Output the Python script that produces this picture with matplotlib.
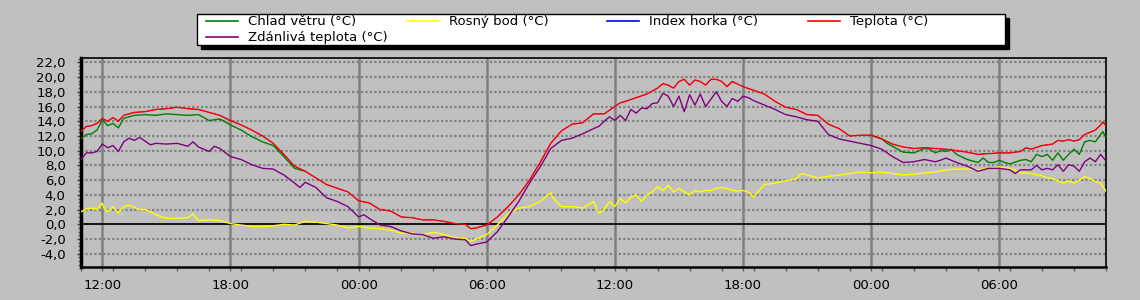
import matplotlib
matplotlib.use("Agg")
import matplotlib.pyplot as plt
from matplotlib.lines import Line2D
from matplotlib.patches import Rectangle
from matplotlib.ticker import FuncFormatter, MultipleLocator
import numpy as np

# hodiny od 11:00 prvniho dne (48 h)
t_teplota = [0, 0.25, 0.5, 0.75, 1, 1.25, 1.5, 1.75, 2, 2.5, 3, 3.5, 4, 4.5, 5, 5.5, 6, 6.5, 7, 7.5, 8, 8.5, 9, 9.5,
             10, 10.5, 11, 11.5, 12, 12.5, 13, 13.5, 14, 14.5, 15, 15.5, 16, 16.5, 17, 17.5, 18, 18.25, 18.5, 19,
             19.5, 20, 20.5, 21, 21.5, 22, 22.5, 23, 23.5, 24, 24.25, 24.5, 25, 25.25, 25.5, 26, 26.5, 27, 27.25,
             27.5, 27.75, 28, 28.25, 28.5, 28.75, 29, 29.25, 29.5, 29.75, 30, 30.25, 30.5, 31, 31.5, 32, 32.5, 33,
             33.5, 34, 34.5, 35, 35.5, 36, 36.5, 37, 37.5, 38, 38.5, 39, 39.5, 40, 40.5, 41, 41.5, 42, 42.5, 43,
             43.5, 44, 44.25, 44.5, 45, 45.5, 45.75, 46, 46.25, 46.5, 46.75, 47, 47.5, 47.75, 47.85, 48]
teplota = [12.6, 13.3, 13.4, 13.7, 14.4, 14.0, 14.5, 14.0, 14.8, 15.2, 15.3, 15.6, 15.7, 15.9, 15.7, 15.6, 15.2, 14.8,
           14.1, 13.5, 12.8, 12.0, 11.0, 9.5, 7.9, 7.2, 6.3, 5.4, 4.9, 4.4, 3.2, 2.9, 2.0, 1.8, 1.0, 0.9, 0.6, 0.6,
           0.4, 0.1, 0.0, -0.6, -0.5, -0.1, 1.0, 2.4, 4.0, 6.0, 8.4, 11.0, 12.7, 13.6, 13.8, 15.0, 15.0, 15.0, 16.0,
           16.5, 16.7, 17.2, 17.7, 18.5, 19.1, 18.9, 18.5, 19.4, 19.7, 18.9, 19.6, 19.4, 18.9, 19.7, 19.7, 19.4,
           18.7, 19.4, 18.7, 18.2, 17.7, 16.7, 15.9, 15.6, 14.9, 14.8, 13.6, 13.0, 12.0, 12.1, 12.1, 11.6, 10.9,
           10.5, 10.3, 10.4, 10.3, 10.2, 10.0, 9.8, 9.5, 9.6, 9.7, 9.7, 9.9, 10.4, 10.2, 10.7, 10.9, 11.4, 11.3,
           11.5, 11.3, 11.5, 12.2, 12.8, 13.5, 13.9, 13.4]

# chlad vetru - jen useky, kde se lisi od teploty
t_chlad_1 = [0, 0.25, 0.5, 0.75, 1, 1.25, 1.5, 1.75, 2, 2.5, 3, 3.5, 4, 4.5, 5, 5.5, 6, 6.5, 7, 7.5, 8, 8.5, 9,
             9.5, 10, 10.5]
chlad_1 = [11.6, 12.2, 12.3, 12.8, 14.2, 13.4, 13.7, 13.1, 14.4, 14.8, 14.9, 14.8, 15.0, 14.9, 14.8, 14.9, 14.1,
           14.3, 13.5, 12.8, 11.9, 11.2, 10.7, 9.2, 7.6, 7.2]
t_chlad_2 = [37, 37.5, 37.75, 38, 38.5, 39, 39.5, 39.75, 40, 40.25, 40.5, 40.75, 41, 41.5, 42, 42.25, 42.5, 42.75,
             43, 43.25, 43.5, 44, 44.25, 44.5, 44.75, 45, 45.25, 45.5, 45.75, 46, 46.25, 46.5, 46.75, 47, 47.25,
             47.5, 47.75, 47.85, 48]
chlad_2 = [12.1, 11.6, 11.0, 10.6, 9.8, 9.7, 10.3, 10.2, 9.7, 10.0, 9.9, 10.2, 9.5, 8.8, 8.4, 9.0, 8.4, 8.4, 8.7,
           8.4, 8.2, 8.7, 8.8, 8.5, 9.5, 9.2, 9.5, 8.7, 9.7, 8.7, 9.5, 10.2, 9.5, 11.2, 11.4, 11.2, 12.2, 12.6, 11.8]

t_zdanliva = [0, 0.25, 0.5, 0.75, 1, 1.25, 1.5, 1.75, 2, 2.25, 2.5, 2.75, 3, 3.25, 3.5, 4, 4.5, 5, 5.25, 5.5, 6,
              6.25, 6.5, 7, 7.5, 8, 8.5, 9, 9.5, 10, 10.25, 10.5, 11, 11.5, 12, 12.5, 13, 13.25, 13.5, 14, 14.5,
              15, 15.5, 16, 16.5, 17, 17.5, 18, 18.25, 18.5, 19, 19.5, 20, 20.5, 21, 21.5, 22, 22.5, 23, 23.5, 24,
              24.25, 24.5, 24.75, 25, 25.25, 25.5, 25.75, 26, 26.25, 26.5, 26.75, 27, 27.25, 27.5, 27.75, 28,
              28.25, 28.5, 28.75, 29, 29.25, 29.5, 29.75, 30, 30.25, 30.5, 30.75, 31, 31.25, 31.5, 32, 32.5, 33,
              33.5, 34, 34.5, 35, 35.5, 36, 36.5, 37, 37.5, 38, 38.5, 39, 39.5, 40, 40.25, 40.5, 41, 41.5, 42,
              42.25, 42.5, 43, 43.5, 43.75, 44, 44.5, 44.75, 45, 45.25, 45.5, 45.75, 46, 46.25, 46.5, 46.75, 47,
              47.25, 47.5, 47.75, 48]
zdanliva = [8.8, 9.7, 9.7, 9.9, 10.9, 10.4, 10.7, 9.9, 11.2, 11.7, 11.4, 11.8, 11.3, 10.8, 11.0, 10.9, 11.0, 10.6,
            11.2, 10.5, 9.9, 10.6, 10.3, 9.2, 8.8, 8.1, 7.6, 7.5, 6.7, 5.6, 5.0, 5.7, 5.0, 3.6, 3.1, 2.4, 1.0, 1.3,
            0.8, -0.1, -0.3, -0.9, -1.3, -1.4, -1.9, -1.7, -2.0, -2.1, -2.9, -2.7, -2.4, -1.0, 1.0, 3.1, 5.6, 7.8,
            10.3, 11.4, 11.7, 12.3, 13.0, 13.3, 14.0, 14.6, 14.1, 14.8, 14.1, 15.6, 15.1, 15.8, 15.7, 16.4, 16.5,
            17.8, 17.4, 16.0, 17.4, 15.3, 17.6, 16.2, 17.7, 16.0, 17.0, 18.0, 16.7, 16.0, 17.1, 16.7, 17.4, 17.2,
            16.8, 16.2, 15.6, 14.9, 14.6, 14.2, 14.0, 12.2, 11.6, 11.3, 11.0, 10.7, 10.2, 9.2, 8.4, 8.5, 8.8, 8.5,
            8.7, 9.0, 8.4, 7.9, 7.2, 7.4, 7.6, 7.6, 7.4, 6.9, 7.4, 7.4, 8.0, 7.4, 7.6, 7.4, 8.1, 7.2, 8.1, 7.9,
            7.2, 8.5, 9.0, 8.5, 9.5, 8.6]

t_rosny = [0, 0.25, 0.5, 0.75, 1, 1.1, 1.25, 1.5, 1.75, 2, 2.25, 2.5, 2.75, 3, 3.25, 3.5, 4, 4.5, 5, 5.25, 5.5, 6,
           6.5, 7, 7.5, 8, 8.5, 9, 9.5, 10, 10.5, 11, 11.5, 12, 12.5, 13, 13.5, 14, 14.5, 15, 15.5, 16, 16.5, 17,
           17.5, 18, 18.25, 18.5, 19, 19.5, 20, 20.5, 21, 21.5, 22, 22.1, 22.5, 23, 23.5, 24, 24.25, 24.5, 24.75,
           25, 25.25, 25.5, 25.75, 26, 26.25, 26.5, 26.75, 27, 27.25, 27.5, 27.75, 28, 28.25, 28.5, 28.75, 29,
           29.25, 29.5, 29.75, 30, 30.25, 30.5, 30.75, 31, 31.25, 31.5, 31.75, 32, 32.5, 33, 33.5, 33.75, 34,
           34.5, 35, 35.5, 36, 36.5, 37, 37.5, 38, 38.5, 39, 39.5, 40, 40.5, 41, 41.5, 42, 42.5, 43, 43.5, 44,
           44.5, 45, 45.25, 45.5, 45.75, 46, 46.25, 46.5, 46.75, 47, 47.25, 47.5, 47.75, 48]
rosny = [1.7, 2.1, 2.2, 2.0, 2.9, 2.0, 1.7, 2.4, 1.5, 2.4, 2.6, 2.3, 2.0, 2.0, 1.7, 1.3, 0.8, 0.8, 0.9, 1.4, 0.5,
         0.6, 0.5, 0.1, -0.1, -0.3, -0.3, -0.2, 0.0, -0.1, 0.4, 0.3, 0.1, -0.1, -0.5, -0.3, -0.5, -0.6, -0.8,
         -1.2, -1.2, -1.4, -1.1, -1.4, -1.8, -1.9, -2.3, -2.0, -1.4, -0.1, 1.4, 2.2, 2.4, 3.1, 4.3, 3.6, 2.4,
         2.4, 2.2, 3.1, 1.5, 2.0, 3.1, 2.4, 3.5, 2.9, 3.7, 4.0, 3.1, 4.0, 4.4, 5.1, 4.6, 5.3, 4.4, 4.9, 4.4, 4.0,
         4.6, 4.4, 4.6, 4.6, 4.9, 5.0, 4.9, 4.6, 4.5, 4.6, 4.4, 3.7, 4.6, 5.4, 5.6, 5.9, 6.2, 6.9, 6.7, 6.3, 6.5,
         6.7, 6.9, 7.1, 7.0, 7.1, 6.9, 6.7, 6.8, 7.0, 7.1, 7.4, 7.5, 7.5, 7.4, 7.6, 7.8, 7.6, 7.0, 6.9, 6.6, 6.3,
         6.2, 5.9, 5.6, 5.9, 5.6, 6.0, 6.5, 6.2, 5.8, 5.6, 4.5]

# index horka se kryje s teplotou
index_horka = teplota

x_ticks_h = [1, 7, 13, 19, 25, 31, 37, 43]
x_tick_labels = ["12:00", "18:00", "00:00", "06:00", "12:00", "18:00", "00:00", "06:00"]

legend_labels = ["Chlad větru (°C)", "Rosný bod (°C)", "Index horka (°C)", "Teplota (°C)",
                 "Zdánlivá teplota (°C)"]
legend_colors = ["green", "yellow", "blue", "red", "purple"]

bg = "#c0c0c0"
grid_c = "#808080"

plt.rcParams['font.family'] = ['DejaVu Sans']

fig = plt.figure(figsize=(11.4, 3.0), dpi=100, facecolor=bg)
ax = fig.add_axes([81 / 1140, 1 - 266.7 / 300, (1106 - 81) / 1140, (266.7 - 58.3) / 300])
ax.set_facecolor(bg)

lw = 1.0
ax.plot(t_chlad_1, chlad_1, color="green", lw=lw, zorder=3)
ax.plot(t_chlad_2, chlad_2, color="green", lw=lw, zorder=3)
ax.plot(t_teplota, index_horka, color="blue", lw=0.4, zorder=3)  # schovany pod teplotou
ax.plot(t_rosny, rosny, color="yellow", lw=lw, zorder=3)
ax.plot(t_teplota, teplota, color="red", lw=lw, zorder=4)
ax.plot(t_zdanliva, zdanliva, color="purple", lw=lw, zorder=5)

ax.set_xlim(0, 48)
ax.set_ylim(-5.76, 22.55)

ax.set_xticks(x_ticks_h)
ax.set_xticklabels(x_tick_labels)
ax.xaxis.set_minor_locator(MultipleLocator(1.5))
ax.set_yticks(np.arange(-4, 23, 2))
ax.yaxis.set_minor_locator(MultipleLocator(0.5))
ax.yaxis.set_major_formatter(FuncFormatter(lambda v, p: f"{v:.1f}".replace(".", ",")))

ax.tick_params(axis="y", which="major", length=3, width=1, color="#404040", pad=8, labelsize=9.5)
ax.tick_params(axis="y", which="minor", length=2, width=1, color="#606060")
ax.tick_params(axis="x", which="both", length=3, width=1, color="#606060", pad=6, labelsize=9.5)

ax.grid(axis="y", which="major", color=grid_c, linestyle=(0, (1, 1)), linewidth=1.6, zorder=1)
ax.grid(axis="x", which="major", color=grid_c, linestyle="-", linewidth=1.8, zorder=1)
ax.set_axisbelow(True)
ax.axhline(0, color="black", lw=1.2, zorder=2)

for s in ax.spines.values():
    s.set_color("black")
    s.set_linewidth(1.2)
ax.spines["left"].set_linewidth(2.5)
ax.spines["bottom"].set_linewidth(1.8)

# legenda - bile okno se stinem
lx0, lx1 = 197 / 1140, 1005 / 1140
ly0, ly1 = 1 - 45 / 300, 1 - 14 / 300
fig.patches.append(Rectangle((lx0 + 4 / 1140, ly0 - 4 / 300), lx1 - lx0, ly1 - ly0,
                             transform=fig.transFigure, facecolor="black", edgecolor="black", zorder=1))
fig.patches.append(Rectangle((lx0, ly0), lx1 - lx0, ly1 - ly0, transform=fig.transFigure,
                             facecolor="white", edgecolor="black", lw=1.0, zorder=2))
for i, (lab, col) in enumerate(zip(legend_labels, legend_colors)):
    row, colno = divmod(i, 4)
    y = 1 - (21 + 16 * row) / 300
    x0 = (206 + 200.7 * colno) / 1140
    fig.lines.append(Line2D([x0, x0 + 32 / 1140], [y, y], transform=fig.transFigure, color=col, lw=1.2, zorder=3))
    fig.text(x0 + 42 / 1140, y, lab, fontsize=9.5, va="center", ha="left", zorder=4)

fig.savefig("out.png", dpi=100, facecolor=bg)
